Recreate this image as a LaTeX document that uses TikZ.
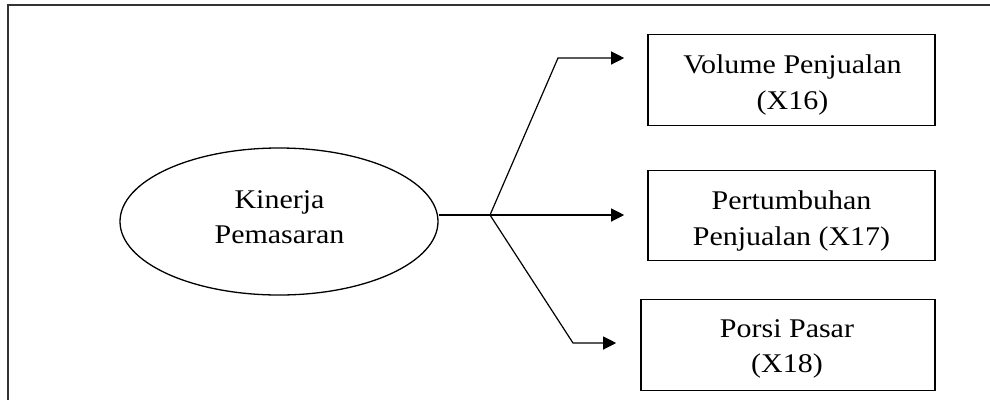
\documentclass[tikz,border=0pt]{standalone}
\usepackage{fontspec}
\setmainfont{Liberation Serif}[FakeStretch=1.11]
\usetikzlibrary{arrows.meta,calc,shapes.geometric}

\tikzset{
  frameline/.style={line width=2pt, draw=black!80},
  indicator/.style={draw, line width=1.6pt, rectangle, inner sep=0pt},
  construct/.style={draw, line width=1.3pt, ellipse, inner sep=0pt,
    minimum width=318pt, minimum height=147pt},
  caption/.style={align=center, inner sep=0pt,
    font=\fontsize{27}{35.5}\selectfont},
  link/.style={line width=1.2pt},
  arrowlink/.style={link, -{Triangle[length=13pt,width=13pt]}, shorten >=23pt}
}

\begin{document}
\begin{tikzpicture}[x=1pt, y=-1pt]
  \useasboundingbox (0,0) rectangle (990,400);

  % open frame: top and left edges
  \draw[frameline] (990,5) -- (8,5) -- (8,400);

  % latent construct
  \node[construct] (kp) at (279,221.5) {};
  \node[caption] (kptext) at (279.5,217) {Kinerja\\Pemasaran};

  % indicator boxes
  \node[indicator, minimum width=287pt, minimum height=91pt] (b1) at (791.5,80) {};
  \node[indicator, minimum width=287pt, minimum height=90pt] (b2) at (791.5,215.5) {};
  \node[indicator, minimum width=294pt, minimum height=91pt] (b3) at (788,345) {};

  \node[caption] (t1) at ($(b1.center)+(1,5)$) {Volume Penjualan\\(X16)};
  \node[caption] (t2) at ($(b2.center)+(0,5.5)$) {Pertumbuhan\\Penjualan (X17)};
  \node[caption] (t3) at ($(b3.center)+(-1,4)$) {Porsi Pasar\\(X18)};

  % branching connectors
  \coordinate (j) at (490,215);
  \coordinate (k1) at (558,58);
  \coordinate (k3) at (573,343);

  \draw[link] (j -| kp.east) -- (j);
  \draw[arrowlink] (j) -- (k1) -- (k1 -| b1.west);
  \draw[arrowlink] (j) -- (j -| b2.west);
  \draw[arrowlink, shorten >=24pt] (j) -- (k3) -- (k3 -| b3.west);
\end{tikzpicture}
\end{document}
